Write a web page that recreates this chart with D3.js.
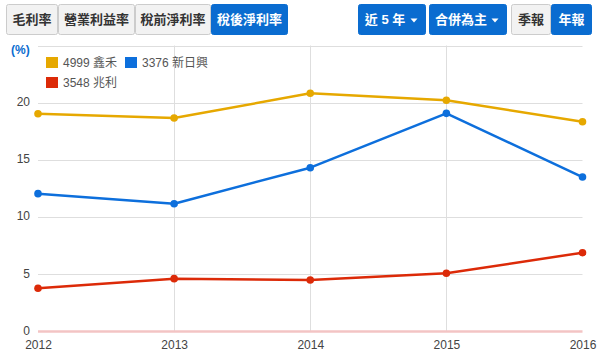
<!DOCTYPE html>
<html><head><meta charset="utf-8">
<script src="https://cdn.jsdelivr.net/npm/d3@7"></script>
<style>
html,body{margin:0;padding:0;background:#fff;}
svg{display:block;font-family:"Liberation Sans","Noto Sans CJK TC",sans-serif;}
</style></head>
<body>
<svg id="c" width="600" height="355"></svg>
<script>
const years = ["2012","2013","2014","2015","2016"];
const s4999 = [19.04, 18.66, 20.82, 20.21, 18.34];
const s3376 = [12.05, 11.17, 14.32, 19.07, 13.50];
const s3548 = [3.78, 4.62, 4.50, 5.09, 6.89];
const seriesNames = ["4999 鑫禾", "3376 新日興", "3548 兆利"];
const yTicks = [0, 5, 10, 15, 20];
const leftTabs = ["毛利率", "營業利益率", "稅前淨利率", "稅後淨利率"];
const rightTabs = ["近 5 年", "合併為主", "季報", "年報"];

const colors = ["#e6a800", "#0d6fdc", "#dc2a08"];
const blue = "#0a6cd0";
const svg = d3.select("#c");

// left tab buttons
const lxs = [6, 58, 135, 211, 288];
leftTabs.forEach((t,i)=>{
  const x0 = lxs[i], x1 = lxs[i+1];
  const on = i === 3;
  svg.append("rect").attr("x", x0+0.5).attr("y", 4.5).attr("width", x1-x0-1).attr("height", 30)
    .attr("rx", 2).attr("fill", on ? blue : "#f2f2f2").attr("stroke", on ? blue : "#cccccc");
  svg.append("text").attr("x", (x0+x1)/2).attr("y", 24).attr("text-anchor","middle")
    .attr("font-size", 13).attr("font-weight","bold").attr("fill", on ? "#fff" : "#333").text(t);
});
// right buttons
const rxs = [[358,426],[429,507],[511,551],[551,592]];
rightTabs.forEach((t,i)=>{
  const [x0,x1] = rxs[i];
  const on = i !== 2;
  svg.append("rect").attr("x", x0+0.5).attr("y", 4.5).attr("width", x1-x0-1).attr("height", 30).attr("rx",2)
    .attr("fill", on ? blue : "#f2f2f2").attr("stroke", on ? blue : "#cccccc");
  const hasC = i < 2;
  svg.append("text").attr("x", (x0+x1)/2 - (hasC?7:0)).attr("y", 24).attr("text-anchor","middle")
    .attr("font-size", 13).attr("font-weight","bold").attr("fill", on ? "#fff" : "#333").text(t);
  if(hasC){
    const tx = x1 - 12;
    svg.append("path").attr("d", `M${tx-3.5},18.5 L${tx+3.5},18.5 L${tx},22.5 Z`).attr("fill","#fff");
  }
});

// scales
const x = d3.scalePoint().domain(years).range([38, 582.5]);
const y = d3.scaleLinear().domain([0, 25]).range([331.5, 45.5]);

// grid
svg.append("g").selectAll("line").data(yTicks.slice(1).concat([25])).join("line")
  .attr("x1", 38).attr("x2", 582.5).attr("y1", d=>Math.round(y(d))+0.5).attr("y2", d=>Math.round(y(d))+0.5)
  .attr("stroke", "#dedede").attr("stroke-width", 1);
svg.append("g").selectAll("line").data(years.slice(1,4)).join("line")
  .attr("x1", d=>Math.round(x(d))+0.5).attr("x2", d=>Math.round(x(d))+0.5).attr("y1", 45.5).attr("y2", 331.5)
  .attr("stroke", "#dedede").attr("stroke-width", 1);
svg.append("line").attr("x1", 38).attr("x2", 582.5).attr("y1", y(0)).attr("y2", y(0))
  .attr("stroke", "#f3c4c4").attr("stroke-width", 2.5);

// axes labels
const yAxis = d3.axisLeft(y).tickValues(yTicks).tickSize(0).tickPadding(0);
const ya = svg.append("g").attr("transform","translate(30,-1)").call(yAxis);
ya.select(".domain").remove();
ya.selectAll("text").attr("font-size", 12).attr("fill", "#444").attr("font-family","Liberation Sans, sans-serif");
const xAxis = d3.axisBottom(x).tickSize(0).tickPadding(0);
const xa = svg.append("g").attr("transform","translate(0,340)").call(xAxis);
xa.select(".domain").remove();
xa.selectAll("text").attr("font-size", 12).attr("fill", "#444").attr("font-family","Liberation Sans, sans-serif");

svg.append("text").attr("x", 11).attr("y", 54).attr("font-size", 12).attr("font-weight","bold")
  .attr("fill", blue).text("(%)");

// lines
const allSeries = [s4999, s3376, s3548];
const line = d3.line().x((d,i)=>x(years[i])).y(d=>y(d));
allSeries.forEach((s,k)=>{
  svg.append("path").datum(s).attr("d", line).attr("fill","none")
    .attr("stroke", colors[k]).attr("stroke-width", 2.5).attr("stroke-linejoin","round");
  svg.append("g").selectAll("circle").data(s).join("circle")
    .attr("cx",(d,i)=>x(years[i])).attr("cy", d=>y(d)).attr("r", 3.8).attr("fill", colors[k]);
});

// legend
const legPos = [[46,57],[125,57],[46,77]];
seriesNames.forEach((n,k)=>{
  const [lx,ly] = legPos[k];
  svg.append("rect").attr("x", lx).attr("y", ly).attr("width", 12).attr("height", 11).attr("fill", colors[k]);
  svg.append("text").attr("x", lx+17).attr("y", ly+10).attr("font-size", 12).attr("fill","#555").text(n);
});
</script>
</body></html>
